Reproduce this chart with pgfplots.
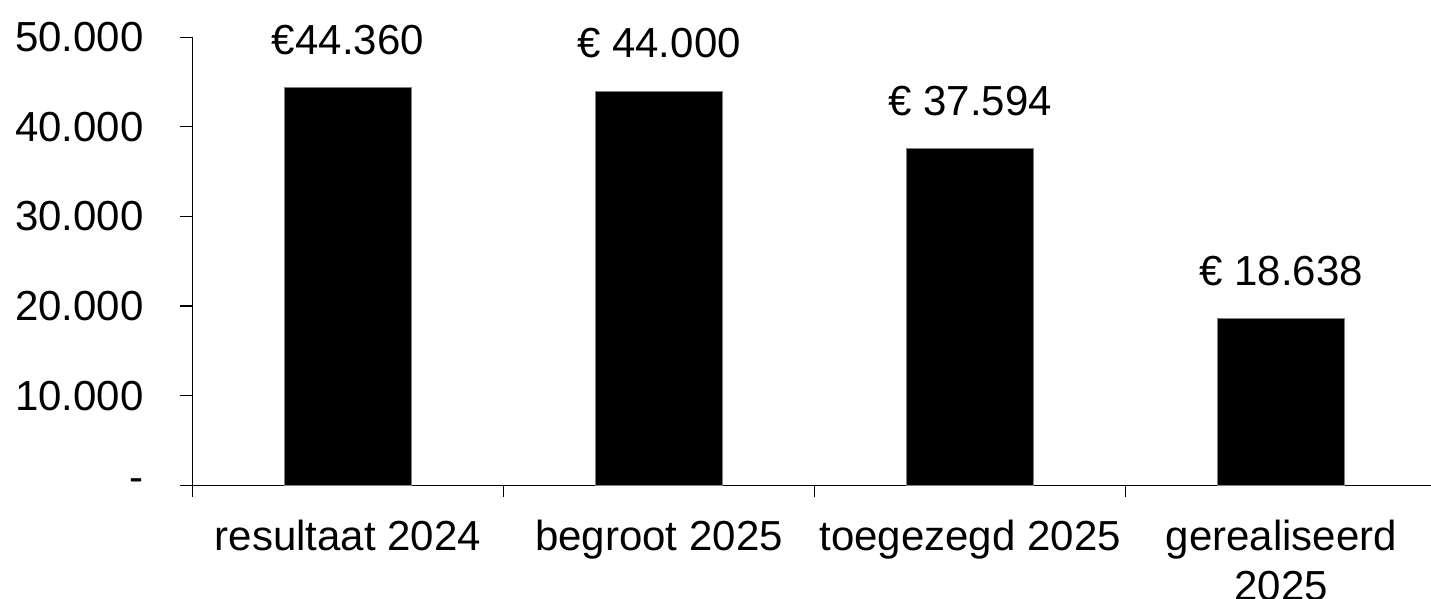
\documentclass[border=0pt]{standalone}
\usepackage{pgfplots}
\pgfplotsset{compat=1.18}
\usepackage{fontspec}
\setmainfont{Liberation Sans}
\begin{document}
\begin{tikzpicture}
\begin{axis}[
  at={(0pt,0pt)}, anchor=south west,
  scale only axis,
  width=619.19pt, height=224pt,
  xmin=-0.5, xmax=3.48,
  ymin=0, ymax=50000,
  clip=false,
  scaled y ticks=false,
  axis x line*=bottom, axis y line*=left,
  axis line style={black, line width=0.6pt},
  tick align=outside,
  major tick length=6pt,
  every tick/.style={black, line width=0.6pt},
  ytick={0,10000,20000,30000,40000,50000},
  yticklabels={-,10.000,20.000,30.000,40.000,50.000},
  xtick={0,1,2,3},
  xticklabels={resultaat 2024,begroot 2025,toegezegd 2025,{gerealiseerd\\2025}},
  x tick style={draw=none},
  extra x ticks={-0.5,0.5,1.5,2.5},
  extra x tick labels={},
  extra x tick style={x tick style={draw=black, line width=0.6pt}},
  tick label style={font=\fontsize{21}{25}\selectfont},
  yticklabel style={anchor=east, inner sep=0pt, xshift=-18.15pt},
  xticklabel style={anchor=north, inner sep=0pt, yshift=-11.35pt, align=center},
  ybar, bar width=63.5pt,
  point meta=explicit symbolic,
  nodes near coords,
  nodes near coords style={anchor=base, inner sep=0pt, yshift=16.6pt, font=\fontsize{21}{25}\selectfont, black},
]
\addplot[fill=black, draw=gray, line width=0.5pt] coordinates {
  (0,44360) [€44.360]
  (1,44000) [€ 44.000]
  (2,37594) [€ 37.594]
  (3,18638) [€ 18.638]
};
\end{axis}
\pgfresetboundingbox
\path[use as bounding box] (-96.15pt,-56.85pt) rectangle (619.35pt,242.65pt);
\end{tikzpicture}
\end{document}
